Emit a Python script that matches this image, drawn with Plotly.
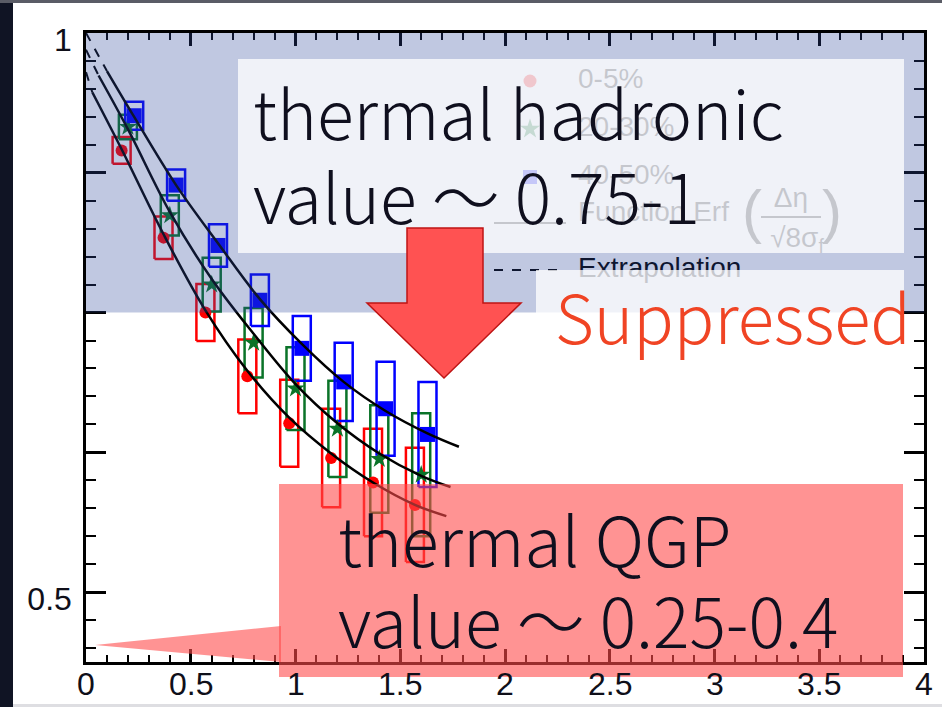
import plotly.graph_objects as go

# ---------------- data ----------------
red_x = [0.17, 0.37, 0.57, 0.77, 0.97, 1.17, 1.37, 1.57]
red_y = [0.895, 0.817, 0.750, 0.693, 0.651, 0.620, 0.598, 0.578]
red_sys = [0.012, 0.019, 0.0255, 0.033, 0.039, 0.044, 0.048, 0.051]

green_x = [0.20, 0.40, 0.60, 0.80, 1.00, 1.20, 1.40, 1.60]
green_y = [0.916, 0.837, 0.775, 0.723, 0.682, 0.646, 0.619, 0.605]
green_sys = [0.011, 0.018, 0.024, 0.031, 0.037, 0.043, 0.048, 0.055]

blue_x = [0.23, 0.43, 0.63, 0.83, 1.03, 1.23, 1.43, 1.63]
blue_y = [0.926, 0.864, 0.810, 0.761, 0.718, 0.688, 0.664, 0.641]
blue_sys = [0.0125, 0.014, 0.019, 0.023, 0.029, 0.035, 0.042, 0.047]

fit_blue_x = [0.10, 0.23, 0.43, 0.63, 0.83, 1.03, 1.23, 1.43, 1.63, 1.78]
fit_blue_y = [0.966, 0.925, 0.864, 0.812, 0.762, 0.722, 0.688, 0.662, 0.642, 0.630]
fit_green_x = [0.06, 0.20, 0.40, 0.60, 0.80, 1.00, 1.20, 1.40, 1.60, 1.74]
fit_green_y = [0.962, 0.914, 0.840, 0.780, 0.731, 0.686, 0.651, 0.624, 0.604, 0.594]
fit_red_x = [0.03, 0.17, 0.37, 0.57, 0.77, 0.97, 1.17, 1.37, 1.57, 1.72]
fit_red_y = [0.947, 0.896, 0.820, 0.752, 0.698, 0.656, 0.624, 0.598, 0.578, 0.568]

extrap_blue_x = [0.0, 0.10]
extrap_blue_y = [1.0, 0.966]
extrap_green_x = [0.0, 0.06]
extrap_green_y = [0.985, 0.962]
extrap_red_x = [0.0, 0.03]
extrap_red_y = [0.965, 0.947]

hadronic_range = [0.75, 1.0]
x_range = [0.0, 4.0]
y_range = [0.4375, 1.0]

x_tick_vals = [0, 0.5, 1, 1.5, 2, 2.5, 3, 3.5, 4]
x_tick_text = ["0", "0.5", "1", "1.5", "2", "2.5", "3", "3.5", "4"]

legend_labels = ["0-5%", "20-30%", "40-50%", "Function Erf", "Extrapolation"]

# ---------------- layout helpers ----------------
W, H = 942, 707
PL, PR, PT, PB = 86, 924, 33, 662
BOX_HW = 0.043

def pxp(x):  # pixel -> paper x
    return (x - PL) / (PR - PL)

def pyp(y):  # pixel -> paper y
    return (PB - y) / (PB - PT)

def dx(x):  # pixel -> data x
    return x_range[0] + (x - PL) / (PR - PL) * (x_range[1] - x_range[0])

def dy(y):  # pixel -> data y
    return y_range[1] - (y - PT) / (PB - PT) * (y_range[1] - y_range[0])

RED = "rgb(255,0,0)"
GREEN = "rgb(10,115,40)"
BLUE = "rgb(0,0,255)"

fig = go.Figure()

def boxes(xs, ys, es, color):
    bx, by = [], []
    for x, y, e in zip(xs, ys, es):
        bx += [x - BOX_HW, x + BOX_HW, x + BOX_HW, x - BOX_HW, x - BOX_HW, None]
        by += [y - e, y - e, y + e, y + e, y - e, None]
    fig.add_trace(go.Scatter(x=bx, y=by, mode="lines",
                             line=dict(color=color, width=2.5),
                             hoverinfo="skip", showlegend=False))

boxes(red_x, red_y, red_sys, RED)
boxes(green_x, green_y, green_sys, GREEN)
boxes(blue_x, blue_y, blue_sys, BLUE)

fig.add_trace(go.Scatter(x=red_x, y=red_y, mode="markers",
                         marker=dict(symbol="circle", size=12, color=RED), showlegend=False))
fig.add_trace(go.Scatter(x=green_x, y=green_y, mode="markers",
                         marker=dict(symbol="star", size=14, color=GREEN), showlegend=False))
fig.add_trace(go.Scatter(x=blue_x, y=blue_y, mode="markers",
                         marker=dict(symbol="square", size=15, color=BLUE), showlegend=False))

for fx, fy in [(fit_blue_x, fit_blue_y), (fit_green_x, fit_green_y), (fit_red_x, fit_red_y)]:
    fig.add_trace(go.Scatter(x=fx, y=fy, mode="lines", line=dict(color="black", width=2.5, shape="spline"),
                             showlegend=False))
for fx, fy in [(extrap_blue_x, extrap_blue_y), (extrap_green_x, extrap_green_y), (extrap_red_x, extrap_red_y)]:
    fig.add_trace(go.Scatter(x=fx, y=fy, mode="lines", line=dict(color="black", width=2, dash="dash"),
                             showlegend=False))

# ---------------- in-plot legend (drawn under the overlays) ----------------
lg_rows = [81, 129, 177, 214, 270]
lg_mx = 530
fig.add_trace(go.Scatter(x=[dx(lg_mx)], y=[dy(lg_rows[0])], mode="markers",
                         marker=dict(symbol="circle", size=13, color=RED), showlegend=False))
fig.add_trace(go.Scatter(x=[dx(lg_mx)], y=[dy(lg_rows[1])], mode="markers",
                         marker=dict(symbol="star", size=15, color=GREEN), showlegend=False))
fig.add_trace(go.Scatter(x=[dx(lg_mx)], y=[dy(lg_rows[2])], mode="markers",
                         marker=dict(symbol="square", size=14, color=BLUE), showlegend=False))
fig.add_trace(go.Scatter(x=[dx(494), dx(566)], y=[dy(223), dy(223)], mode="lines",
                         line=dict(color="black", width=2), showlegend=False))
fig.add_trace(go.Scatter(x=[dx(494), dx(566)], y=[dy(270), dy(270)], mode="lines",
                         line=dict(color="black", width=2, dash="dash"), showlegend=False))
fig.add_trace(go.Scatter(x=[dx(578)] * 5, y=[dy(r) for r in lg_rows], mode="text",
                         text=legend_labels, textposition="middle right",
                         textfont=dict(family="Liberation Sans", size=28, color="black"),
                         showlegend=False))
# Erf argument (fraction)
fig.add_trace(go.Scatter(x=[dx(761), dx(821)], y=[dy(217), dy(217)], mode="lines",
                         line=dict(color="black", width=2), showlegend=False))
fig.add_trace(go.Scatter(x=[dx(752), dx(791), dx(797), dx(832)],
                         y=[dy(217), dy(200), dy(240), dy(217)], mode="text",
                         text=["(", "Δη", "√8σ<sub>f</sub>", ")"], textposition="middle center",
                         textfont=dict(family="Liberation Sans", size=[60, 28, 28, 60], color="black"),
                         showlegend=False))

# ---------------- shapes ----------------
shapes = []
# translucent blue band: thermal hadronic range
shapes.append(dict(type="rect", xref="x", yref="y", x0=x_range[0], x1=x_range[1],
                   y0=hadronic_range[0], y1=hadronic_range[1],
                   fillcolor="rgba(45,72,155,0.30)", line=dict(width=0), layer="above"))
# white translucent text boxes
shapes.append(dict(type="rect", xref="paper", yref="paper", x0=pxp(238), x1=pxp(904),
                   y0=pyp(253), y1=pyp(59), fillcolor="rgba(255,255,255,0.76)",
                   line=dict(width=0), layer="above"))
shapes.append(dict(type="rect", xref="paper", yref="paper", x0=pxp(536), x1=pxp(904),
                   y0=pyp(346), y1=pyp(270), fillcolor="rgba(255,255,255,0.76)",
                   line=dict(width=0), layer="above"))
# red arrow
ax = [407, 483, 483, 521, 444, 367, 407]
ay = [228, 228, 303, 303, 378, 303, 303]
path = "M " + " L ".join(f"{pxp(a)},{pyp(b)}" for a, b in zip(ax, ay)) + " Z"
shapes.append(dict(type="path", xref="paper", yref="paper", path=path,
                   fillcolor="rgb(255,82,82)", line=dict(color="rgb(190,20,20)", width=1.5),
                   layer="above"))
# pink callout
tri = "M {},{} L {},{} L {},{} Z".format(pxp(95), pyp(645), pxp(281), pyp(626), pxp(281), pyp(662))
shapes.append(dict(type="path", xref="paper", yref="paper", path=tri,
                   fillcolor="rgba(255,75,75,0.6)", line=dict(width=0), layer="above"))
shapes.append(dict(type="rect", xref="paper", yref="paper", x0=pxp(279), x1=pxp(903),
                   y0=pyp(677), y1=pyp(484), fillcolor="rgba(255,75,75,0.6)",
                   line=dict(width=0), layer="above"))
# slide frame
shapes.append(dict(type="rect", xref="paper", yref="paper", x0=pxp(0), x1=pxp(13),
                   y0=pyp(707), y1=pyp(0), fillcolor="rgb(16,20,36)", line=dict(width=0), layer="above"))
shapes.append(dict(type="rect", xref="paper", yref="paper", x0=pxp(0), x1=pxp(942),
                   y0=pyp(3), y1=pyp(0), fillcolor="rgb(90,92,102)", line=dict(width=0), layer="above"))
shapes.append(dict(type="rect", xref="paper", yref="paper", x0=pxp(13), x1=pxp(942),
                   y0=pyp(707), y1=pyp(704), fillcolor="rgb(222,222,226)", line=dict(width=0), layer="above"))

# ---------------- annotations ----------------
TXT = dict(family="Noto Sans CJK JP", size=68, color="rgb(15,15,30)", weight=300)
ann = []
# x tick labels
for v, t in zip(x_tick_vals, x_tick_text):
    ann.append(dict(text=t, xref="x", yref="paper", x=v, y=pyp(684), xanchor="center", yanchor="middle",
                    showarrow=False,
                    font=dict(family="Liberation Sans", size=32, color="rgb(15,15,25)")))

def add_text(text, x, ybase, font):
    ann.append(dict(text=text, xref="paper", yref="paper", x=pxp(x), y=pyp(ybase - 0.41 * font["size"]),
                    xanchor="left", yanchor="middle", showarrow=False, font=font))

add_text("thermal hadronic", 251, 138, TXT)
add_text("value 〜 0.75-1", 251, 222, TXT)
add_text("Suppressed", 553, 342, dict(TXT, size=67, color="rgb(240,68,36)"))
add_text("thermal QGP", 336, 565, TXT)
add_text("value 〜 0.25-0.4", 336, 646, TXT)

axis_common = dict(showline=True, linecolor="black", linewidth=2.5, mirror="allticks",
                   ticks="inside", tickcolor="black", tickwidth=2.5, showgrid=False, zeroline=False,
                   automargin=False,
                   tickfont=dict(family="Liberation Sans", size=32, color="rgb(15,15,25)"))

fig.update_layout(
    width=W, height=H, autosize=False,
    margin=dict(l=PL, r=W - PR, t=PT, b=H - PB, pad=0),
    paper_bgcolor="white", plot_bgcolor="white",
    showlegend=False,
    xaxis=dict(axis_common, range=x_range, tick0=0, dtick=0.5, ticklen=13, showticklabels=False,
               minor=dict(dtick=0.1, ticklen=7, tickwidth=2, ticks="inside", tickcolor="black")),
    yaxis=dict(axis_common, range=y_range, tick0=0.5, dtick=0.125, ticklen=20,
               ticklabelstandoff=5, ticklabelshift=7,
               labelalias={"0.625": " ", "0.75": " ", "0.875": " "},
               minor=dict(dtick=0.025, tick0=0.5, ticklen=10, tickwidth=2, ticks="inside", tickcolor="black")),
    shapes=shapes,
    annotations=ann,
)

fig.write_html("out.html", config={"displayModeBar": False},
               post_script="document.body.style.margin='0';document.body.style.overflow='hidden';")
